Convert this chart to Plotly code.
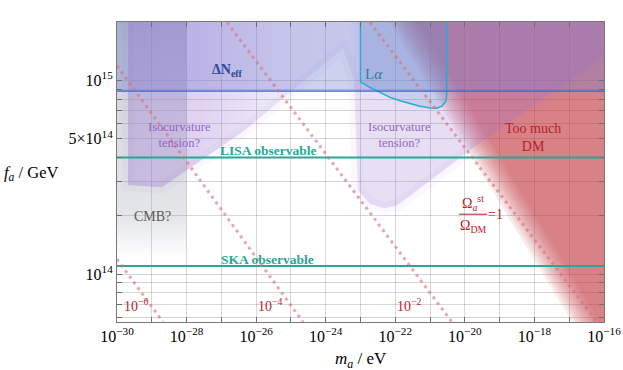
import plotly.graph_objects as go

# axes window
m_lim = [1e-30, 1e-16]
f_lim = [5.66e13, 2.0e15]

x_tickvals = [1e-30, 1e-29, 1e-28, 1e-27, 1e-26, 1e-25, 1e-24, 1e-23,
              1e-22, 1e-21, 1e-20, 1e-19, 1e-18, 1e-17, 1e-16]
x_ticktext = ["10<sup>−30</sup>", "", "10<sup>−28</sup>", "", "10<sup>−26</sup>", "",
              "10<sup>−24</sup>", "", "10<sup>−22</sup>", "", "10<sup>−20</sup>", "",
              "10<sup>−18</sup>", "", "10<sup>−16</sup>"]
y_tickvals = [6e13, 7e13, 8e13, 9e13, 1e14, 2e14, 3e14, 4e14, 5e14, 6e14,
              7e14, 8e14, 9e14, 1e15, 2e15]
y_ticktext = ["", "", "", "", "10<sup>14</sup>", "", "", "", "5×10<sup>14</sup>",
              "", "", "", "", "10<sup>15</sup>", ""]

# shaded regions (m in eV, f in GeV)
cmb_m = [1e-31, 1e-28, 1e-28, 1e-31]
cmb_f = [1.2e14, 1.2e14, 3e15, 3e15]

dneff_m = [1e-31, 1e-15, 1e-15, 1e-31]
dneff_f = [8.8e14, 8.8e14, 3e15, 3e15]

iso_m = [2.07e-30, 2.07e-30, 1.96e-29, 2.43e-28, 4.78e-27, 5.90e-26, 3.13e-24,
         6.49e-24, 8.45e-24, 1.87e-23, 5.05e-23, 1.19e-22, 1.40e-20, 1.08e-15, 1.08e-15]
iso_f = [2.58e15, 2.88e14, 2.81e14, 3.87e14, 5.52e14, 8.07e14, 1.46e15,
         1.0e15, 2.71e14, 2.30e14, 2.19e14, 2.27e14, 4.36e14, 1.81e15, 2.58e15]

lya_m = [1.0e-23, 1.0e-23, 1.87e-23, 3.63e-23, 7.04e-23, 1.36e-22, 2.64e-22, 5.12e-22,
         9.93e-22, 1.58e-21, 2.20e-21, 2.86e-21, 3.0e-21, 3.0e-21]
lya_f = [2.58e15, 9.79e14, 9.2e14, 8.63e14, 8.17e14, 7.84e14, 7.56e14, 7.35e14,
         7.19e14, 7.18e14, 7.35e14, 7.80e14, 8.37e14, 2.58e15]

red_edge_m = [7.3e-23, 6.2e-17]
red_edge_f = [2.58e15, 4.57e13]

dneff_line = 8.8e14
lisa_f = 4.0e14
ska_f = 1.1e14

# Omega_st / Omega_DM contours
omega_m = [[1e-30, 2.10e-29], [1e-30, 2.22e-25], [1.45e-27, 4.26e-21], [1.87e-23, 6.27e-17]]
omega_f = [[1.195e14, 5.66e13], [1.19e15, 5.66e13], [1.99e15, 5.66e13], [1.99e15, 5.66e13]]

serif = "Liberation Serif"
teal = "rgb(38,168,150)"
dm_red = "rgb(185,30,40)"

fig = go.Figure()

fig.add_trace(go.Scatter(x=cmb_m, y=cmb_f, fill="toself", mode="none",
                         fillgradient=dict(type="vertical",
                                           colorscale=[[0, "rgba(150,155,170,0)"],
                                                       [0.15, "rgba(150,155,170,0.25)"],
                                                       [0.5, "rgba(150,155,170,0.35)"],
                                                       [1, "rgba(150,155,170,0.6)"]])))

# too much DM, soft edge by stacking shifted copies
for k in [-0.4, -0.3, -0.2, -0.1, 0.0, 0.1, 0.2, 0.3, 0.4]:
    sh = 10 ** k
    fig.add_trace(go.Scatter(x=[red_edge_m[0] * sh, red_edge_m[1] * sh, 1e-15, 1e-15],
                             y=[red_edge_f[0], red_edge_f[1], red_edge_f[1], red_edge_f[0]],
                             fill="toself", mode="none", fillcolor="rgba(195,50,60,0.097)"))

fig.add_trace(go.Scatter(x=dneff_m, y=dneff_f, fill="toself", mode="none",
                         fillcolor="rgba(110,125,205,0.35)"))

fig.add_trace(go.Scatter(x=iso_m, y=iso_f, fill="toself", mode="lines",
                         fillgradient=dict(type="horizontal",
                                           colorscale=[[0, "rgba(150,110,210,0.34)"],
                                                       [0.14, "rgba(150,110,210,0.3)"],
                                                       [0.32, "rgba(150,110,210,0.13)"],
                                                       [0.43, "rgba(150,110,210,0.11)"],
                                                       [0.46, "rgba(150,110,210,0.22)"],
                                                       [1, "rgba(150,110,210,0.24)"]]),
                         line=dict(color="rgba(150,110,210,0.05)", width=12)))

fig.add_trace(go.Scatter(x=lya_m, y=lya_f, fill="toself", mode="lines",
                         fillcolor="rgba(80,150,200,0.22)",
                         line=dict(color="rgb(40,170,210)", width=1.5)))

fig.add_trace(go.Scatter(x=m_lim, y=[dneff_line] * 2, mode="lines",
                         line=dict(color="rgb(55,105,200)", width=1.3)))
for fl in [lisa_f, ska_f]:
    fig.add_trace(go.Scatter(x=m_lim, y=[fl, fl], mode="lines",
                             line=dict(color=teal, width=2)))

for xs, ys in zip(omega_m, omega_f):
    fig.add_trace(go.Scatter(x=xs, y=ys, mode="lines",
                             line=dict(color="rgba(215,110,120,0.6)", width=3, dash="3px,4px")))

fig.update_traces(showlegend=False, hoverinfo="skip")


def note(text, x, y, color, size):
    fig.add_annotation(text=text, x=x, y=y, xref="x", yref="y", showarrow=False,
                       xanchor="center", yanchor="middle",
                       font=dict(family=serif, size=size, color=color))


note("<b>ΔN<sub>eff</sub></b>", -26.81, 15.052, "rgb(45,75,150)", 14)
note("L<i>α</i>", -22.61, 15.031, "rgb(40,130,150)", 15)
note("Isocurvature<br>tension?", -28.19, 14.717, "rgb(150,100,200)", 12.5)
note("Isocurvature<br>tension?", -21.89, 14.717, "rgb(150,100,200)", 12.5)
note("Too much<br>DM", -18.04, 14.706, dm_red, 14)
note("<b>LISA observable</b>", -25.66, 14.639, teal, 13.5)
note("<b>SKA observable</b>", -25.66, 14.077, teal, 13.5)
note("CMB?", -28.99, 14.299, "rgb(90,90,90)", 14)
note("10<sup>−6</sup>", -29.43, 13.84, dm_red, 14)
note("10<sup>−4</sup>", -25.60, 13.84, dm_red, 14)
note("10<sup>−2</sup>", -21.58, 13.84, dm_red, 14)
note("Ω<sub><i>a</i></sub><sup>st</sup>", -19.77, 14.366, dm_red, 14)
note("Ω<sub>DM</sub>", -19.77, 14.247, dm_red, 14)
note("=1", -19.11, 14.309, dm_red, 14)
fig.add_shape(type="line", x0=10 ** -20.17, x1=10 ** -19.36, y0=10 ** 14.309, y1=10 ** 14.309,
              line=dict(color=dm_red, width=1))

fig.add_annotation(text="<i>f<sub>a</sub></i> / GeV", xref="paper", yref="paper",
                   x=-0.177, y=0.497, xanchor="center", yanchor="middle", showarrow=False,
                   font=dict(family=serif, size=16.5, color="black"))
fig.add_annotation(text="<i>m<sub>a</sub></i> / eV", xref="paper", yref="paper",
                   x=0.501, y=-0.127, xanchor="center", yanchor="middle", showarrow=False,
                   font=dict(family=serif, size=17, color="black"))

axis_style = dict(type="log", showline=True, linecolor="rgb(120,120,120)", linewidth=1,
                  mirror="ticks", ticks="inside", ticklen=5, tickcolor="rgb(110,110,110)",
                  showgrid=True, gridcolor="rgba(0,0,0,0.16)", gridwidth=1, zeroline=False,
                  automargin=False, tickfont=dict(family=serif, size=16, color="black"))

fig.update_xaxes(range=[-30, -16], tickmode="array", tickvals=x_tickvals,
                 ticktext=x_ticktext, **axis_style)
fig.update_yaxes(range=[13.7528, 15.30103], tickmode="array", tickvals=y_tickvals,
                 ticktext=y_ticktext, **axis_style)

fig.update_layout(width=623, height=370,
                  margin=dict(l=117, r=19, t=22, b=48, autoexpand=False),
                  plot_bgcolor="white", paper_bgcolor="white", showlegend=False)

# drop the default 8px page margin so the figure fills the window exactly
fig.write_html("out.html", config={"displayModeBar": False},
               post_script="document.body.style.margin='0';")
